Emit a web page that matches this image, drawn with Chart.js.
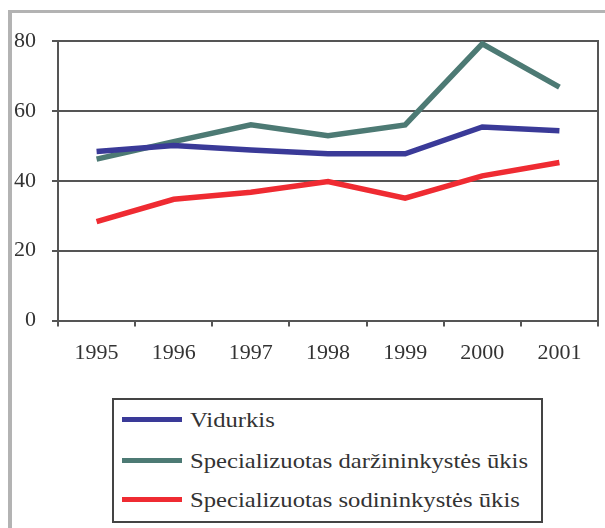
<!DOCTYPE html>
<html>
<head>
<meta charset="utf-8">
<script src="https://cdn.jsdelivr.net/npm/chart.js@4/dist/chart.umd.min.js"></script>
<style>
  html, body { margin: 0; padding: 0; background: #fff; }
  #wrap { position: relative; width: 605px; height: 528px; overflow: hidden; }
  #frame { position: absolute; left: 8px; top: 10px; width: 700px; height: 700px;
           border-top: 3px solid #b3b3b3; border-left: 4px solid #b3b3b3; box-sizing: border-box; }
  #c { position: absolute; left: 0; top: 0; }
  #legend { position: absolute; left: 112px; top: 398px; width: 431px; height: 125px;
            border: 2px solid #444; box-sizing: border-box; background: #fff;
            font-family: "Liberation Serif", "Times New Roman", serif; font-size: 22px; color: #333; }
  .item { position: absolute; left: 0; height: 30px; width: 100%; }
  .swatch { position: absolute; left: 8px; width: 60px; height: 5px; }
  .label { position: absolute; left: 76px; white-space: nowrap; transform-origin: 0 50%; transform: scaleX(1.12); line-height: 30px; top: -15px; }
</style>
</head>
<body>
<div id="wrap">
  <div id="frame"></div>
  <canvas id="c" width="605" height="528"></canvas>
  <div id="legend"></div>
</div>
<script>
const years = ['1995', '1996', '1997', '1998', '1999', '2000', '2001'];
const vidurkis = [48.4, 50.1, 48.8, 47.7, 47.7, 55.4, 54.3];
const darzininkystes = [46.2, 51.2, 56.0, 52.9, 56.0, 79.2, 66.8];
const sodininkystes = [28.3, 34.7, 36.7, 39.8, 35.0, 41.4, 45.2];
const seriesNames = ['Vidurkis', 'Specializuotas daržininkystės ūkis', 'Specializuotas sodininkystės ūkis'];
const yTicks = [0, 20, 40, 60, 80];

const colors = ['#3a3a98', '#4d7a74', '#ef2b32'];
const tickFont = { family: '"Liberation Serif", "Times New Roman", serif', size: 22 };

const chart = new Chart(document.getElementById('c'), {
  type: 'line',
  data: {
    labels: years,
    datasets: [vidurkis, darzininkystes, sodininkystes].map((d, i) => ({
      label: seriesNames[i],
      data: d,
      borderColor: colors[i],
      backgroundColor: colors[i],
      borderWidth: 5.5,
      pointRadius: 0,
      pointHoverRadius: 0,
      tension: 0,
      fill: false,
      borderCapStyle: 'butt',
      borderJoinStyle: 'miter'
    }))
  },
  options: {
    responsive: false,
    animation: false,
    events: [],
    layout: { padding: { left: 0, right: 7, top: 41, bottom: 147.5 } },
    plugins: { legend: { display: false }, tooltip: { enabled: false }, title: { display: false } },
    scales: {
      x: {
        type: 'category',
        offset: true,
        afterFit: s => { s.height = 60; },
        grid: { display: true, drawOnChartArea: false, offset: true, tickLength: 6, color: '#555', lineWidth: 2 },
        border: { display: true, color: '#555', width: 2 },
        ticks: { font: tickFont, color: '#333', padding: 14, maxRotation: 0, autoSkip: false }
      },
      y: {
        min: yTicks[0],
        max: yTicks[yTicks.length - 1],
        afterFit: s => { s.width = 58; },
        afterBuildTicks: s => { s.ticks = yTicks.map(v => ({ value: v })); },
        grid: { color: '#555', lineWidth: 2, tickLength: 6, drawTicks: true },
        border: { display: true, color: '#555', width: 2 },
        ticks: { font: tickFont, color: '#333', padding: 16 }
      },
      yR: {
        position: 'right',
        min: yTicks[0],
        max: yTicks[yTicks.length - 1],
        afterFit: s => { s.width = 0; },
        grid: { display: false },
        border: { display: true, color: '#555', width: 2 },
        ticks: { display: false }
      }
    }
  }
});

// HTML legend generated from chart datasets
const legendEl = document.getElementById('legend');
const rowY = [19, 60, 99];
chart.data.datasets.forEach((ds, i) => {
  const item = document.createElement('div');
  item.className = 'item';
  item.style.top = (rowY[i] - 2) + 'px';
  const sw = document.createElement('div');
  sw.className = 'swatch';
  sw.style.background = ds.borderColor;
  sw.style.top = '0px';
  const lb = document.createElement('div');
  lb.className = 'label';
  lb.textContent = ds.label;
  lb.style.top = '-12px';
  item.appendChild(sw);
  item.appendChild(lb);
  legendEl.appendChild(item);
});
</script>
</body>
</html>
